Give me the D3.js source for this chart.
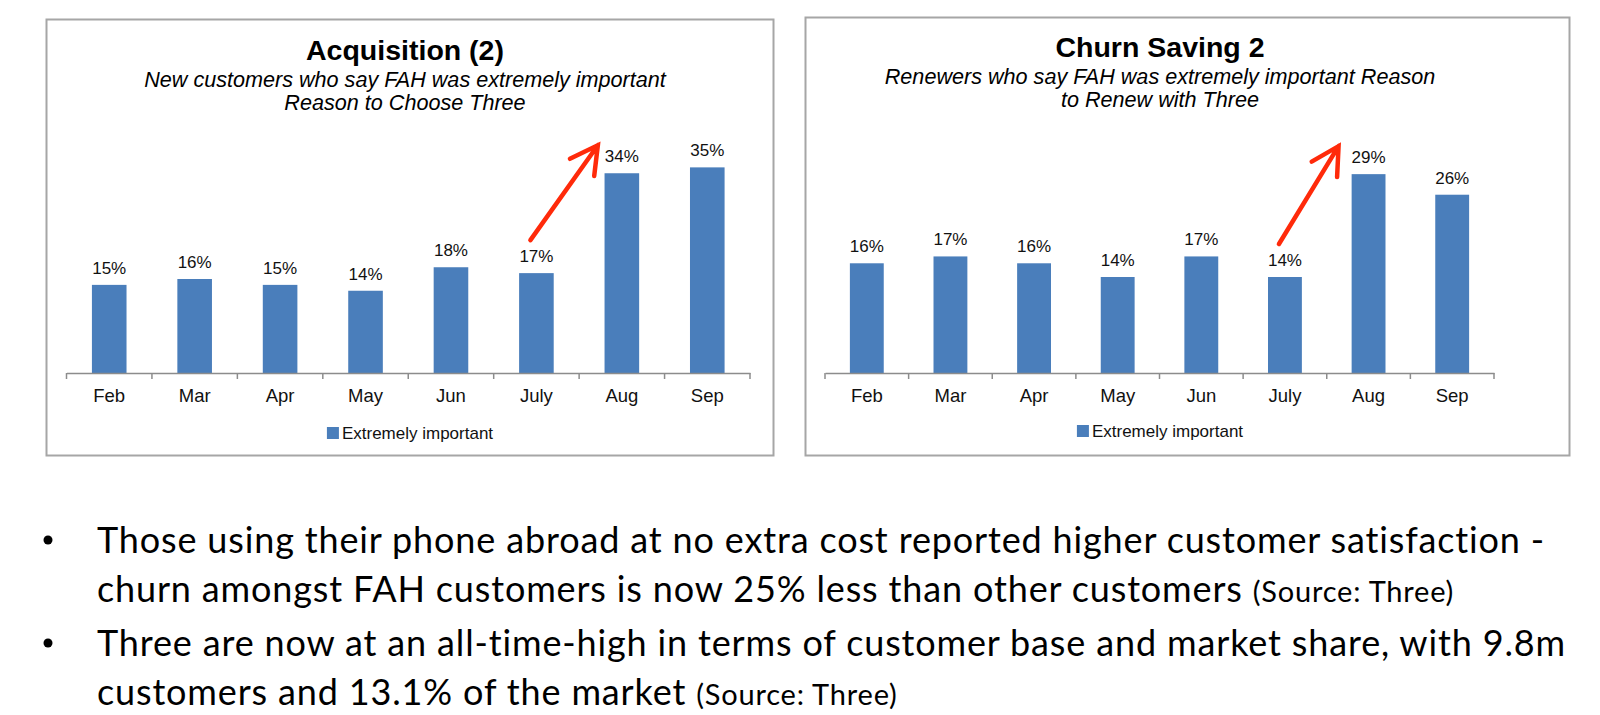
<!DOCTYPE html>
<html>
<head>
<meta charset="utf-8">
<script src="https://cdn.jsdelivr.net/npm/d3@7"></script>
<style>
  body { margin: 0; background: #fff; }
  svg { display: block; }
</style>
</head>
<body>
<div id="page"></div>
<script>
// data
var months = ['Feb', 'Mar', 'Apr', 'May', 'Jun', 'July', 'Aug', 'Sep'];
var acquisitionPct = [15, 16, 15, 14, 18, 17, 34, 35];
var churnSavingPct = [16, 17, 16, 14, 17, 14, 29, 26];
var seriesName = 'Extremely important';

var acquisitionTitle = 'Acquisition (2)';
var acquisitionSubtitle = ['New customers who say FAH was extremely important', 'Reason to Choose Three'];
var churnTitle = 'Churn Saving 2';
var churnSubtitle = ['Renewers who say FAH was extremely important Reason', 'to Renew with Three'];

var bulletLines = [
  { text: 'Those using their phone abroad at no extra cost reported higher customer satisfaction -', source: '' },
  { text: 'churn amongst FAH customers is now 25% less than other customers ', source: '(Source: Three)' },
  { text: 'Three are now at an all-time-high in terms of customer base and market share, with 9.8m', source: '' },
  { text: 'customers and 13.1% of the market ', source: '(Source: Three)' }
];
var bulletStarts = [0, 2];

var svg = d3.select('#page').append('svg')
            .attr('width', 1600)
            .attr('height', 715);

svg.append('rect').attr('width', 1600).attr('height', 715).attr('fill', '#fff');

var barPanel = {

  config: {
    blue: '#4a7ebb',
    red: '#ff2a0a',
    axisColor: '#8c8c8c',
    font: '"Liberation Sans", Arial, sans-serif'
  },

  /* ---
   * Draws one bordered chart panel
   */
  display: function(chart) {
    this.chart = chart;
    this.g = svg.append('g');

    this.createFrame();
    this.createScales();
    this.createTitles();
    this.createBars();
    this.createAxis();
    this.createArrow();
    this.createLegend();
  },

  createFrame: function() {
    var b = this.chart.box;
    this.g.append('rect')
          .attr('x', b.x).attr('y', b.y)
          .attr('width', b.w).attr('height', b.h)
          .attr('fill', '#fff')
          .attr('stroke', '#a6a6a6')
          .attr('stroke-width', 2);
  },

  createScales: function() {
    var p = this.chart.plot;
    this.x = d3.scaleBand()
               .domain(months)
               .range([p.left, p.right])
               .paddingInner(0.595)
               .paddingOuter(0.2975);
    this.y = d3.scaleLinear()
               .domain([0, this.chart.yMax])
               .range([p.bottom, p.top]);
  },

  createTitles: function() {
    var c = this.chart;
    this.g.append('text')
          .attr('x', c.titleX).attr('y', c.titleY)
          .attr('text-anchor', 'middle')
          .style('font', 'bold 28.5px ' + this.config.font)
          .attr('fill', '#000')
          .text(c.title);

    this.g.selectAll('.sub')
          .data(c.subtitle)
          .enter()
          .append('text')
          .attr('x', c.titleX)
          .attr('y', (d, i) => c.titleY + 27 + i * 23)
          .attr('text-anchor', 'middle')
          .style('font', 'italic 21.6px ' + this.config.font)
          .attr('fill', '#000')
          .text(d => d);
  },

  createBars: function() {
    var x = this.x, y = this.y;
    var rows = months.map((m, i) => ({ month: m, value: this.chart.values[i] }));

    this.g.selectAll('.bar')
          .data(rows)
          .enter()
          .append('rect')
          .attr('x', d => x(d.month))
          .attr('y', d => y(d.value))
          .attr('width', x.bandwidth())
          .attr('height', d => y(0) - y(d.value))
          .attr('fill', this.config.blue);

    this.g.selectAll('.lbl')
          .data(rows)
          .enter()
          .append('text')
          .attr('x', d => x(d.month) + x.bandwidth() / 2)
          .attr('y', d => y(d.value) - 11)
          .attr('text-anchor', 'middle')
          .style('font', '17px ' + this.config.font)
          .attr('fill', '#111')
          .text(d => d.value + '%');
  },

  createAxis: function() {
    var axis = d3.axisBottom(this.x).tickSize(0).tickPadding(16);
    var ag = this.g.append('g')
                   .attr('transform', 'translate(0,' + this.y(0) + ')')
                   .call(axis);
    ag.select('.domain').attr('stroke', this.config.axisColor).attr('stroke-width', 1.5);
    ag.selectAll('text')
      .style('font', '18.5px ' + this.config.font)
      .attr('fill', '#111');

    // tick marks sit between the categories, like the original
    var step = this.x.step();
    var p = this.chart.plot;
    ag.selectAll('.sep')
      .data(d3.range(months.length + 1))
      .enter()
      .append('line')
      .attr('x1', i => p.left + i * step)
      .attr('x2', i => p.left + i * step)
      .attr('y1', 0).attr('y2', 6)
      .attr('stroke', this.config.axisColor)
      .attr('stroke-width', 1.5);
  },

  createArrow: function() {
    var x = this.x, y = this.y, c = this.chart;
    var half = x.bandwidth() / 2;
    var from = months.indexOf('July'), to = months.indexOf('Aug');
    var tail = [x(months[from]) + half - 6, y(c.values[from]) - 33];
    var tip = [x(months[to]) + half + c.tipDx, y(c.values[to]) - 28];

    var ang = Math.atan2(tail[1] - tip[1], tail[0] - tip[0]);
    var len = 31, spread = 0.5;
    var h1 = [tip[0] + len * Math.cos(ang + spread), tip[1] + len * Math.sin(ang + spread)];
    var h2 = [tip[0] + len * Math.cos(ang - spread), tip[1] + len * Math.sin(ang - spread)];

    this.g.append('path')
          .attr('d', d3.line()([tail, tip]) + 'M' + h1 + 'L' + tip + 'L' + h2)
          .attr('fill', 'none')
          .attr('stroke', this.config.red)
          .attr('stroke-width', 4.5)
          .attr('stroke-linecap', 'round')
          .attr('stroke-linejoin', 'miter');
  },

  createLegend: function() {
    var c = this.chart;
    var lg = this.g.append('g');
    var txt = lg.append('text')
                .attr('x', 15).attr('y', 6)
                .style('font', '17px ' + this.config.font)
                .attr('fill', '#111')
                .text(seriesName);
    var w = 15 + txt.node().getComputedTextLength();
    lg.append('rect')
      .attr('x', 0).attr('y', -6)
      .attr('width', 12).attr('height', 12)
      .attr('fill', this.config.blue);
    lg.attr('transform', 'translate(' + (c.legendX - w / 2) + ',' + c.legendY + ')');
  }
};

barPanel.display({
  box: { x: 46.5, y: 19.5, w: 727, h: 436 },
  plot: { left: 66.5, right: 750, top: 138, bottom: 373 },
  yMax: 40,
  values: acquisitionPct,
  title: acquisitionTitle,
  subtitle: acquisitionSubtitle,
  titleX: 405, titleY: 60,
  tipDx: -24,
  legendX: 410, legendY: 433
});

barPanel.display({
  box: { x: 805.5, y: 17.5, w: 764, h: 438 },
  plot: { left: 825, right: 1494, top: 133, bottom: 373 },
  yMax: 35,
  values: churnSavingPct,
  title: churnTitle,
  subtitle: churnSubtitle,
  titleX: 1160, titleY: 57,
  tipDx: -30,
  legendX: 1160, legendY: 431
});

// bullet notes under the charts
var notes = svg.append('g')
               .style('font-family', 'Lato, "Open Sans", sans-serif')
               .attr('fill', '#000');
var baselines = [553, 602, 656, 705];

bulletLines.forEach(function(line, i) {
  var t = notes.append('text')
               .attr('x', 97)
               .attr('y', baselines[i])
               .style('font-size', '36px')
               .style('letter-spacing', '0.85px');
  t.append('tspan').text(line.text);
  if (line.source) {
    t.append('tspan').style('font-size', '29px').style('letter-spacing', '0.8px').text(line.source);
  }
  if (bulletStarts.indexOf(i) >= 0) {
    notes.append('circle')
         .attr('cx', 48)
         .attr('cy', baselines[i] - 13)
         .attr('r', 4.5);
  }
});
</script>
</body>
</html>
